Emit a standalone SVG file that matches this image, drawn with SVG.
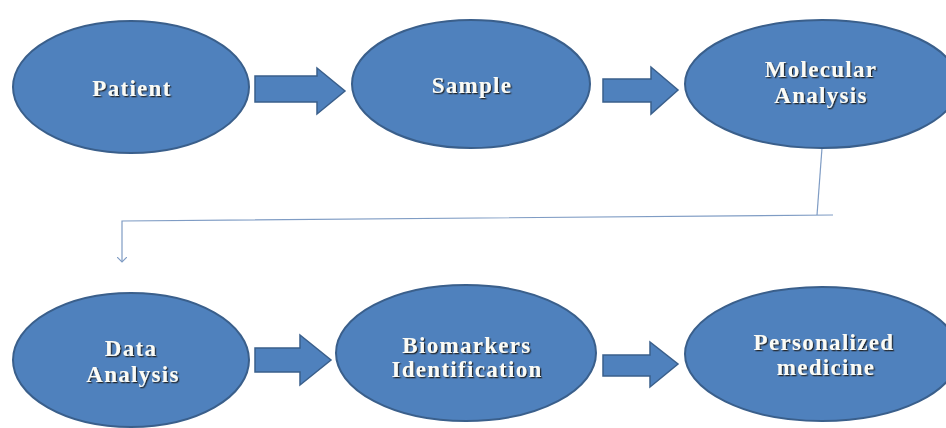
<svg xmlns="http://www.w3.org/2000/svg" width="946" height="428" viewBox="0 0 946 428">
  <defs>
    <filter id="sh" x="-10%" y="-30%" width="120%" height="160%">
      <feDropShadow dx="1.3" dy="1.3" stdDeviation="0.7" flood-color="#1a1a1a" flood-opacity="0.9"/>
    </filter>
    <marker id="open" markerWidth="10" markerHeight="10" refX="5" refY="5" orient="auto" markerUnits="userSpaceOnUse">
      <path d="M0,0 L5,5 L0,10" fill="none" stroke="#7f9cc4" stroke-width="1.2"/>
    </marker>
  </defs>
  <style>
    .node ellipse { fill: #4f81bd; stroke: #3a5f8b; stroke-width: 2; }
    .blk { fill: #4f81bd; stroke: #3a5f8b; stroke-width: 1.5; stroke-linejoin: miter; }
    .lbl { font-family: "Liberation Serif", "Times New Roman", serif; font-weight: bold; font-size: 23px; letter-spacing: 1.3px; fill: #fbfbf5; text-anchor: middle; filter: url(#sh); }
    .conn { fill: none; stroke: #7f9cc4; stroke-width: 1.2; }
  </style>
  <rect width="946" height="428" fill="#ffffff"/>

  <g id="connectors">
    <polygon class="blk" points="255,76 317,76 317,68 345,91 317,114 317,102 255,102"/>
    <polygon class="blk" points="603,79 651,79 651,67 678,90 651,114 651,102 603,102"/>
    <polygon class="blk" points="255,348 300,348 300,335 331,360 300,385 300,372 255,372"/>
    <polygon class="blk" points="603,355 650,355 650,342 678,364 650,387 650,376 603,376"/>
    <line class="conn" x1="822" y1="148" x2="817" y2="215"/>
    <polyline class="conn" points="833,215 122,221 122,262" marker-end="url(#open)"/>
  </g>

  <g id="patient" class="node">
    <ellipse cx="131" cy="87" rx="118" ry="66"/>
    <text class="lbl" x="132" y="96">Patient</text>
  </g>
  <g id="sample" class="node">
    <ellipse cx="471" cy="84" rx="119" ry="64"/>
    <text class="lbl" x="472" y="93">Sample</text>
  </g>
  <g id="molecular-analysis" class="node">
    <ellipse cx="822" cy="84" rx="137" ry="64"/>
    <text class="lbl" x="821" y="77">Molecular</text>
    <text class="lbl" x="821" y="103">Analysis</text>
  </g>
  <g id="data-analysis" class="node">
    <ellipse cx="131" cy="360" rx="118" ry="67"/>
    <text class="lbl" x="131" y="356">Data</text>
    <text class="lbl" x="133" y="382">Analysis</text>
  </g>
  <g id="biomarkers-identification" class="node">
    <ellipse cx="466" cy="353" rx="130" ry="68"/>
    <text class="lbl" x="467" y="353">Biomarkers</text>
    <text class="lbl" x="467" y="377">Identification</text>
  </g>
  <g id="personalized-medicine" class="node">
    <ellipse cx="822" cy="354" rx="137" ry="67"/>
    <text class="lbl" x="824" y="350">Personalized</text>
    <text class="lbl" x="826" y="375">medicine</text>
  </g>
</svg>
